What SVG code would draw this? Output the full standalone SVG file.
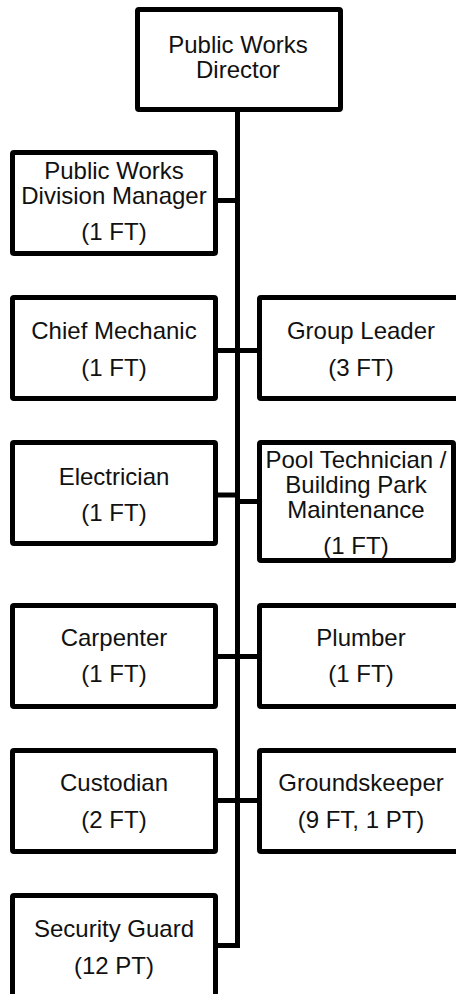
<svg xmlns="http://www.w3.org/2000/svg" width="456" height="994" viewBox="0 0 456 994">
<style>
.box{fill:#fff;stroke:#000;stroke-width:5;}
.t{font-family:"Liberation Sans",Arial,sans-serif;font-size:24px;fill:#111;text-anchor:middle;}
.c{stroke:#000;stroke-width:5;fill:none;}
</style>
<rect width="456" height="994" fill="#fff"/>
<g id="connectors">
<line class="c" x1="237.5" y1="110" x2="237.5" y2="948"/>
<line class="c" x1="216" y1="200.5" x2="240" y2="200.5"/>
<line class="c" x1="216" y1="350.5" x2="259" y2="350.5"/>
<line class="c" x1="216" y1="495" x2="237.5" y2="495"/>
<line class="c" x1="237.5" y1="501.5" x2="259" y2="501.5"/>
<line class="c" x1="216" y1="656.5" x2="259" y2="656.5"/>
<line class="c" x1="216" y1="800.5" x2="259" y2="800.5"/>
<line class="c" x1="216" y1="945.5" x2="240" y2="945.5"/>
</g>
<g id="director">
<rect class="box" x="137.5" y="9.5" width="203" height="100" rx="1.5"/>
<text class="t" x="238" y="52.5">Public Works</text>
<text class="t" x="238" y="77.5">Director</text>
</g>
<g id="division-manager">
<rect class="box" x="12.5" y="152.5" width="203" height="101" rx="1.5"/>
<text class="t" x="114" y="178.5">Public Works</text>
<text class="t" x="114" y="203.5">Division Manager</text>
<text class="t" x="114" y="240">(1 FT)</text>
</g>
<g id="chief-mechanic">
<rect class="box" x="12.5" y="297.5" width="203" height="101" rx="1.5"/>
<text class="t" x="114" y="339">Chief Mechanic</text>
<text class="t" x="114" y="375.5">(1 FT)</text>
</g>
<g id="group-leader">
<rect class="box" x="259.5" y="297.5" width="203" height="101" rx="1.5"/>
<text class="t" x="361" y="339">Group Leader</text>
<text class="t" x="361" y="375.5">(3 FT)</text>
</g>
<g id="electrician">
<rect class="box" x="12.5" y="442.5" width="203" height="101" rx="1.5"/>
<text class="t" x="114" y="484.5">Electrician</text>
<text class="t" x="114" y="520.5">(1 FT)</text>
</g>
<g id="pool-technician">
<rect class="box" x="259.5" y="442.5" width="194" height="118" rx="1.5"/>
<text class="t" x="356" y="468">Pool Technician /</text>
<text class="t" x="356" y="493">Building Park</text>
<text class="t" x="356" y="517.5">Maintenance</text>
<text class="t" x="356" y="553.5">(1 FT)</text>
</g>
<g id="carpenter">
<rect class="box" x="12.5" y="605.5" width="203" height="101" rx="1.5"/>
<text class="t" x="114" y="645.5">Carpenter</text>
<text class="t" x="114" y="682">(1 FT)</text>
</g>
<g id="plumber">
<rect class="box" x="259.5" y="605.5" width="203" height="101" rx="1.5"/>
<text class="t" x="361" y="645.5">Plumber</text>
<text class="t" x="361" y="682">(1 FT)</text>
</g>
<g id="custodian">
<rect class="box" x="12.5" y="750.5" width="203" height="101" rx="1.5"/>
<text class="t" x="114" y="791">Custodian</text>
<text class="t" x="114" y="827.5">(2 FT)</text>
</g>
<g id="groundskeeper">
<rect class="box" x="259.5" y="750.5" width="203" height="101" rx="1.5"/>
<text class="t" x="361" y="791">Groundskeeper</text>
<text class="t" x="361" y="827.5">(9 FT, 1 PT)</text>
</g>
<g id="security-guard">
<rect class="box" x="12.5" y="895.5" width="203" height="120" rx="1.5"/>
<text class="t" x="114" y="937">Security Guard</text>
<text class="t" x="114" y="973.5">(12 PT)</text>
</g>
</svg>
